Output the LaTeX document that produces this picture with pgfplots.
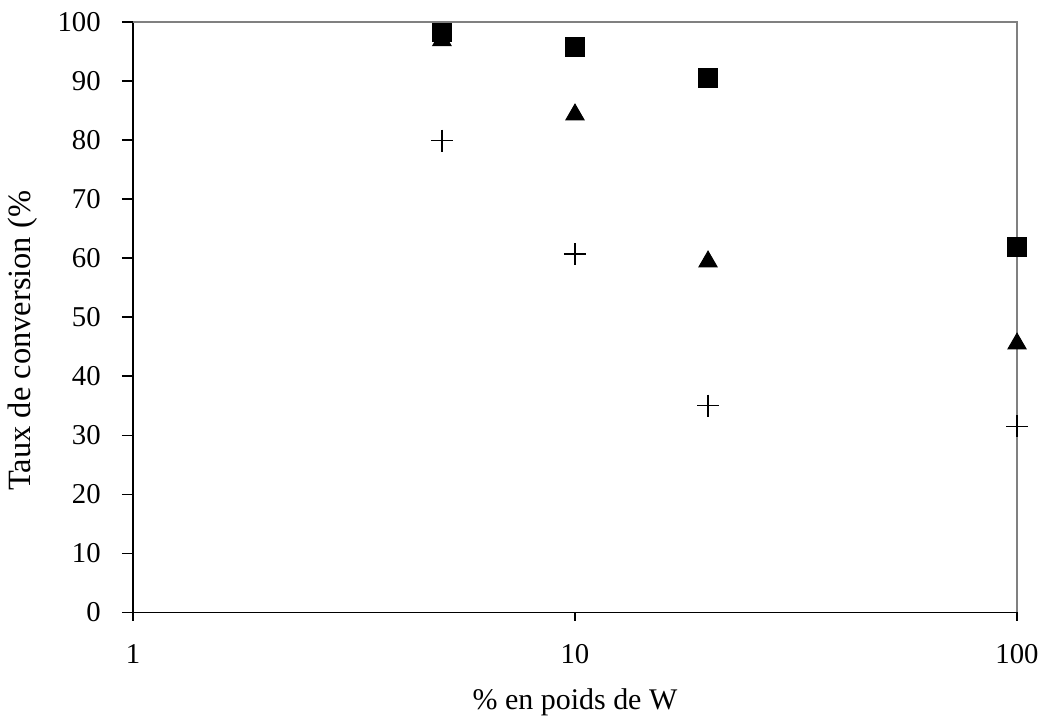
\documentclass[border=0pt]{standalone}
\usepackage{pgfplots}
\pgfplotsset{compat=1.18}
\usepackage{fontspec}
\setmainfont{Liberation Serif}
\begin{document}
\begin{tikzpicture}
\begin{axis}[
  at={(52.8pt,42.8pt)}, anchor=origin,
  scale only axis,
  width=354pt, height=236.4pt,
  xmode=log, log basis x=10,
  xmin=1, xmax=100, ymin=0, ymax=100,
  xtick={1,10,100}, xticklabels={1,10,100},
  ytick={0,10,...,100},
  minor xtick={}, minor ytick={},
  axis x line*=bottom, axis y line*=left,
  axis line style={black, line width=0.6pt, -},
  tick style={black, line width=0.6pt},
  xtick align=outside, ytick align=outside,
  major tick length=4.4pt,
  xtick style={/pgfplots/major tick length=3.4pt},
  /pgf/number format/assume math mode=true,
  tick label style={font=\fontsize{11.5}{13}\selectfont},
  yticklabel style={xshift=-5pt},
  xticklabel style={yshift=-5pt},
  every axis x label/.style={at={(axis description cs:0.5,-0.152)}, anchor=center, font=\fontsize{12}{14}\selectfont},
  every axis y label/.style={at={(axis description cs:-0.1243,0.46)}, rotate=90, anchor=center, font=\fontsize{13}{15}\selectfont},
  xlabel={\% en poids de W},
  ylabel={Taux de conversion (\%},
  clip=false,
]
\addplot[only marks, mark=triangle*, mark size=4.2pt, black] coordinates {(5,96.9) (10,84.3) (20,59.4) (100,45.5)};
\addplot[only marks, mark=square*, mark size=3.7pt, black] coordinates {(5,98.2) (10,95.8) (20,90.5) (100,61.9)};
\addplot[only marks, mark=+, mark size=4.4pt, black, line width=0.6pt] coordinates {(5,79.9) (10,60.7) (20,35.0) (100,31.5)};
\draw[gray, line width=0.8pt] (rel axis cs:0,1) -- (rel axis cs:1,1) -- (rel axis cs:1,0);
\end{axis}
\path[use as bounding box] (0pt,0pt) rectangle (419.6pt,288pt);
\end{tikzpicture}
\end{document}
